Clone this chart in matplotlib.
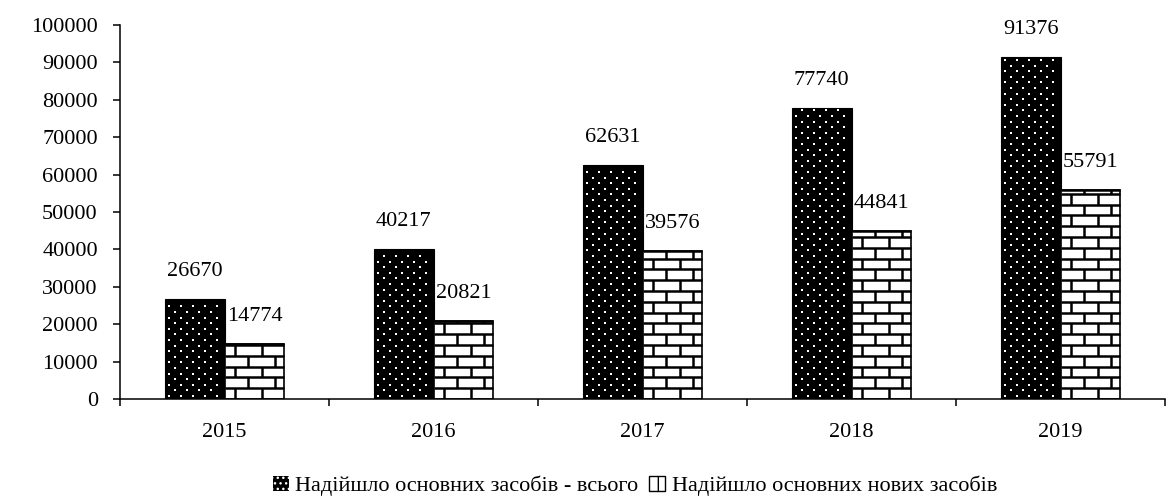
import matplotlib
matplotlib.use("Agg")
import matplotlib.pyplot as plt
import numpy as np
from matplotlib.collections import LineCollection
from matplotlib.patches import Patch
from matplotlib.transforms import IdentityTransform

years = ["2015", "2016", "2017", "2018", "2019"]
total_received = [26670, 40217, 62631, 77740, 91376]
new_received = [14774, 20821, 39576, 44841, 55791]
series_labels = ["Надійшло основних засобів - всього",
                 "Надійшло основних нових засобів"]
y_ticks = list(range(0, 100001, 10000))

plt.rcParams["font.family"] = ["Liberation Serif", "DejaVu Serif"]
FS = 16

fig = plt.figure(figsize=(11.68, 5.03), dpi=100)
ax = fig.add_axes([120 / 1168, 104 / 503, 1045 / 1168, 374 / 503])

x = np.arange(len(years))
w = 0.287
ax.set_xlim(-0.5, len(years) - 0.5)
ax.set_ylim(0, 100000)

bars_total = ax.bar(x - w / 2, total_received, w, color="black",
                    edgecolor="black", linewidth=0.8, zorder=2)
bars_new = ax.bar(x + w / 2, new_received, w, color="white",
                  edgecolor="black", linewidth=1.2, zorder=2)


def pixel_box(bar):
    (x0, y0), (x1, y1) = ax.transData.transform(
        [[bar.get_x(), bar.get_y()],
         [bar.get_x() + bar.get_width(), bar.get_y() + bar.get_height()]])
    return x0, y0, x1, y1


def add_dots(bar):
    # staggered white dots on a black fill
    x0, y0, x1, y1 = pixel_box(bar)
    pts = []
    row = 0
    y = y0 + 3
    while y < y1 - 2:
        start = x0 + 4 + (6 if row % 2 else 0)
        for xx in np.arange(start, x1 - 2, 12):
            pts.append((xx, y))
        y += 5.6
        row += 1
    pts = np.array(pts)
    ax.scatter(pts[:, 0], pts[:, 1], transform=IdentityTransform(),
               marker="s", s=4.5, c="white", linewidths=0, zorder=3,
               clip_path=bar)


def add_bricks(bar):
    # brick-wall fill: horizontal courses with staggered joints
    x0, y0, x1, y1 = pixel_box(bar)
    rh, bw = 10.8, 27.0
    segs = []
    for i, yb in enumerate(np.arange(y0, y1, rh)):
        yt = min(yb + rh, y1)
        segs.append([(x0, yt), (x1, yt)])
        start = x0 + 10 + (bw / 2 if i % 2 else 0)
        for xv in np.arange(start, x1, bw):
            segs.append([(xv, yb), (xv, yt)])
    lc = LineCollection(segs, colors="black", linewidths=1.8,
                        transform=IdentityTransform(), zorder=3)
    lc.set_clip_path(bar)
    ax.add_collection(lc, autolim=False)


for b in bars_total:
    add_dots(b)
for b in bars_new:
    add_bricks(b)

for bars, vals in ((bars_total, total_received), (bars_new, new_received)):
    for b, v in zip(bars, vals):
        ax.annotate(f"{v}", (b.get_x() + b.get_width() / 2, v),
                    xytext=(0, 13), textcoords="offset points",
                    ha="center", va="bottom", fontsize=FS)

# axes styling
for side in ("top", "right"):
    ax.spines[side].set_visible(False)
for side in ("left", "bottom"):
    ax.spines[side].set_linewidth(1.1)

ax.set_xticks(x)
ax.set_xticklabels(years, fontsize=FS)
ax.set_xticks(np.arange(-0.5, len(years)), minor=True)
ax.tick_params(axis="x", which="major", length=0, pad=17)
ax.tick_params(axis="x", which="minor", length=5, width=1.1, direction="out")

ax.set_yticks(y_ticks)
ax.set_yticklabels([str(t) for t in y_ticks], fontsize=FS)
ax.tick_params(axis="y", length=5, width=1.1, direction="out", pad=11)

handles = [
    Patch(facecolor="black", edgecolor="white", hatch="...", linewidth=0),
    Patch(facecolor="white", edgecolor="black", hatch="+", linewidth=1.0),
]
fig.legend(handles, series_labels, loc="center",
           bbox_to_anchor=(635 / 1168, 1 - 486 / 503), ncol=2,
           frameon=False, fontsize=FS, handlelength=0.7, handleheight=0.7,
           handletextpad=0.3, columnspacing=0.5)

fig.savefig("out.png", dpi=100)
